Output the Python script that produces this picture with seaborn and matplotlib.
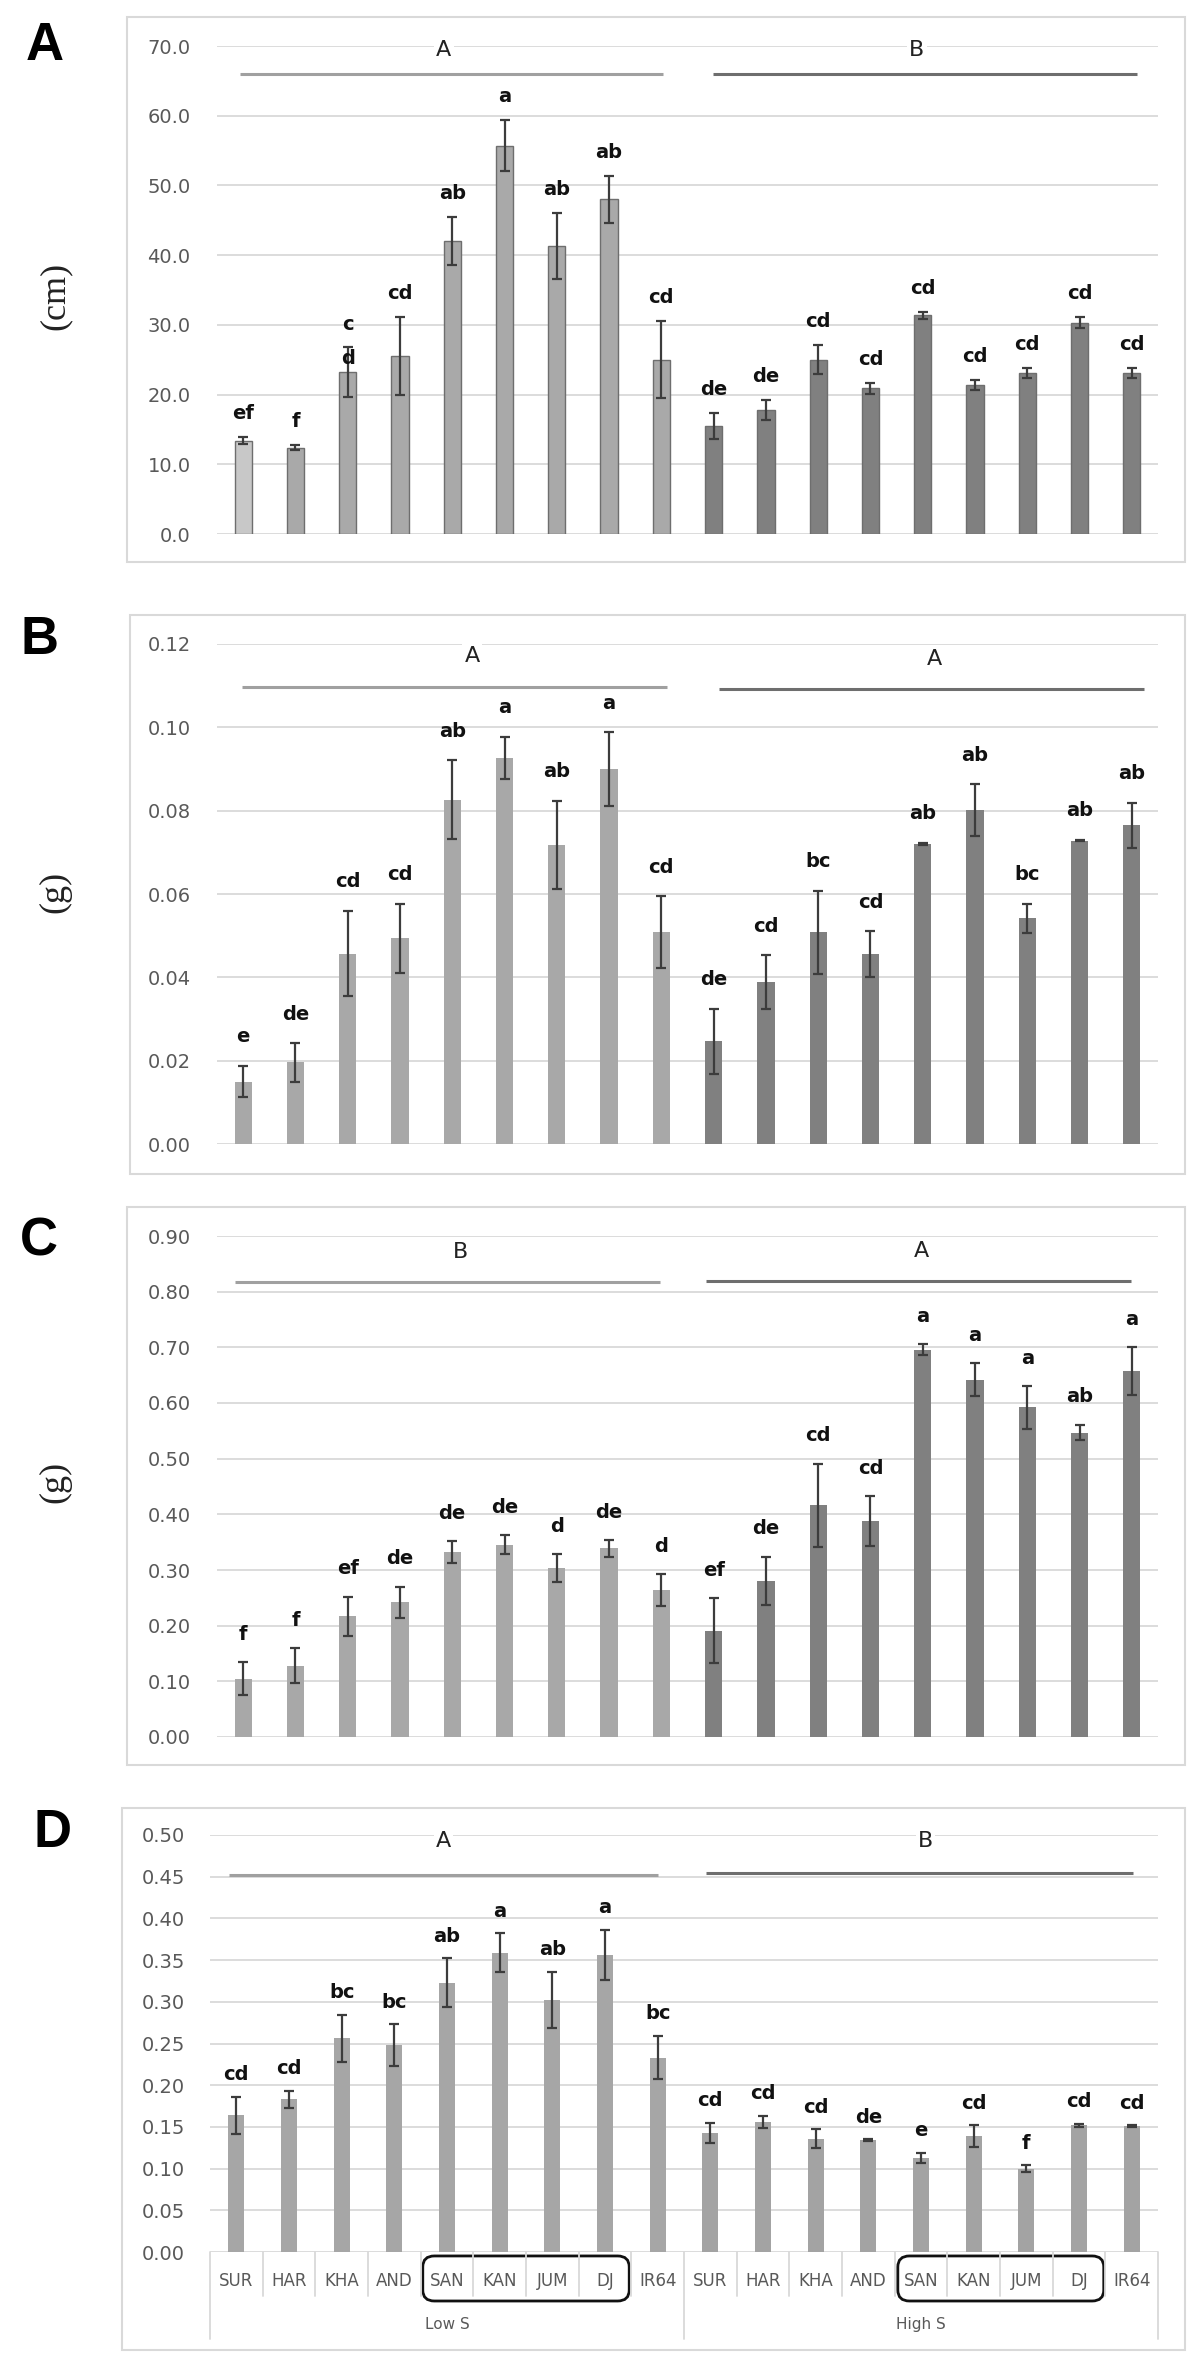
import numpy as np
import pandas as pd
import seaborn as sns
import matplotlib.pyplot as plt
import matplotlib.transforms as mtransforms
from matplotlib.patches import Rectangle, FancyBboxPatch

# cultivars and sulfur treatments
cultivars = ['SUR', 'HAR', 'KHA', 'AND', 'SAN', 'KAN', 'JUM', 'DJ', 'IR64']
treatments = ['Low S', 'High S']

# panel A - (cm)
a_mean = [13.4, 12.4, 23.2, 25.5, 42.0, 55.7, 41.3, 48.0, 25.0,
          15.5, 17.8, 25.0, 20.9, 31.4, 21.4, 23.1, 30.3, 23.1]
a_err = [0.5, 0.4, 3.6, 5.6, 3.4, 3.7, 4.7, 3.4, 5.5,
         1.9, 1.4, 2.1, 0.8, 0.5, 0.7, 0.7, 0.8, 0.7]
a_lbl = ['ef', 'f', 'c\nd', 'cd', 'ab', 'a', 'ab', 'ab', 'cd',
         'de', 'de', 'cd', 'cd', 'cd', 'cd', 'cd', 'cd', 'cd']
a_group = ['A', 'B']

# panel B - (g)
b_mean = [0.0150, 0.0196, 0.0457, 0.0494, 0.0826, 0.0926, 0.0718, 0.0900, 0.0508,
          0.0247, 0.0388, 0.0508, 0.0455, 0.0720, 0.0801, 0.0542, 0.0728, 0.0765]
b_err = [0.0037, 0.0046, 0.0102, 0.0083, 0.0095, 0.0051, 0.0106, 0.0088, 0.0086,
         0.0078, 0.0065, 0.0100, 0.0055, 0.0003, 0.0062, 0.0035, 0.0002, 0.0054]
b_lbl = ['e', 'de', 'cd', 'cd', 'ab', 'a', 'ab', 'a', 'cd',
         'de', 'cd', 'bc', 'cd', 'ab', 'ab', 'bc', 'ab', 'ab']
b_group = ['A', 'A']

# panel C - (g)
c_mean = [0.105, 0.128, 0.217, 0.242, 0.332, 0.345, 0.303, 0.339, 0.264,
          0.191, 0.281, 0.416, 0.388, 0.696, 0.642, 0.592, 0.547, 0.657]
c_err = [0.029, 0.031, 0.035, 0.028, 0.020, 0.017, 0.025, 0.015, 0.028,
         0.058, 0.043, 0.075, 0.045, 0.010, 0.030, 0.038, 0.014, 0.043]
c_lbl = ['f', 'f', 'ef', 'de', 'de', 'de', 'd', 'de', 'd',
         'ef', 'de', 'cd', 'cd', 'a', 'a', 'a', 'ab', 'a']
c_group = ['B', 'A']

# panel D - (g)
d_mean = [0.164, 0.183, 0.256, 0.248, 0.323, 0.359, 0.302, 0.356, 0.233,
          0.143, 0.156, 0.136, 0.134, 0.113, 0.139, 0.100, 0.152, 0.151]
d_err = [0.022, 0.010, 0.028, 0.025, 0.029, 0.023, 0.034, 0.030, 0.026,
         0.012, 0.007, 0.011, 0.001, 0.006, 0.013, 0.004, 0.002, 0.001]
d_lbl = ['cd', 'cd', 'bc', 'bc', 'ab', 'a', 'ab', 'a', 'bc',
         'cd', 'cd', 'cd', 'de', 'e', 'cd', 'f', 'cd', 'cd']
d_group = ['A', 'B']

W, H = 1204, 2365
sns.set_style('white')
plt.rcParams['font.family'] = ['DejaVu Sans']

fig = plt.figure(figsize=(W / 100, H / 100), dpi=100)

keys = [f'{c}|{t}' for t in treatments for c in cultivars]
trt_of = [t for t in treatments for c in cultivars]

panels = [
    dict(name='A', mean=a_mean, err=a_err, lbl=a_lbl, grp=a_group, unit='(cm)',
         top=70, step=10, fmt='{:.1f}', px=(217, 46, 1158, 534), frame=(127, 17, 1185, 562),
         letter=(45, 46), ylab=296, lab_off=13,
         cols=('#a9a9a9', '#808080'), edge=True,
         glbl=[(3.84, 69.4), (12.89, 69.4)], gline=[(-0.06, 8.03, 66.0), (8.98, 17.1, 66.0)]),
    dict(name='B', mean=b_mean, err=b_err, lbl=b_lbl, grp=b_group, unit='(g)',
         top=0.12, step=0.02, fmt='{:.2f}', px=(217, 644, 1158, 1144), frame=(130, 615, 1185, 1174),
         letter=(39, 640), ylab=892, lab_off=17,
         cols=('#a8a8a8', '#808080'), edge=False,
         glbl=[(4.38, 0.1171), (13.23, 0.1165)], gline=[(-0.02, 8.11, 0.1097), (9.1, 17.23, 0.1092)]),
    dict(name='C', mean=c_mean, err=c_err, lbl=c_lbl, grp=c_group, unit='(g)',
         top=0.90, step=0.10, fmt='{:.2f}', px=(217, 1236, 1158, 1737), frame=(127, 1207, 1185, 1765),
         letter=(39, 1242), ylab=1482, lab_off=16,
         cols=('#a8a8a8', '#808080'), edge=False,
         glbl=[(4.15, 0.871), (12.97, 0.873)], gline=[(-0.16, 7.97, 0.817), (8.85, 16.98, 0.819)]),
    dict(name='D', mean=d_mean, err=d_err, lbl=d_lbl, grp=d_group, unit=None,
         top=0.50, step=0.05, fmt='{:.2f}', px=(210, 1835, 1158, 2252), frame=(122, 1808, 1185, 2350),
         letter=(53, 1833), ylab=None, lab_off=12,
         cols=('#a6a6a6', '#a3a3a3'), edge=False,
         glbl=[(3.94, 0.493), (13.08, 0.493)], gline=[(-0.14, 8.0, 0.452), (8.92, 17.02, 0.454)]),
]

for p in panels:
    x0, y0, x1, y1 = p['px']
    ax = fig.add_axes([x0 / W, 1 - y1 / H, (x1 - x0) / W, (y1 - y0) / H])

    df = pd.DataFrame({'key': keys, 'trt': trt_of, 'val': p['mean']})
    pal = {k: (p['cols'][0] if t == 'Low S' else p['cols'][1]) for k, t in zip(keys, trt_of)}
    if p['name'] == 'A':
        pal[keys[0]] = '#c8c8c8'
    sns.barplot(data=df, x='key', y='val', hue='key', palette=pal, order=keys,
                dodge=False, width=0.33 if p['name'] != 'D' else 0.31, legend=False,
                edgecolor='#6e6e6e' if p['edge'] else 'none', linewidth=1.0 if p['edge'] else 0,
                errorbar=None, ax=ax, saturation=1)
    xs = np.arange(len(keys))
    ax.errorbar(xs, p['mean'], yerr=p['err'], fmt='none', ecolor='#3c3c3c',
                elinewidth=1.6, capsize=3.5, capthick=1.6, zorder=4)

    for x, v, e, s in zip(xs, p['mean'], p['err'], p['lbl']):
        if '\n' in s:
            ax.annotate(s, (x, v + e), xytext=(0, 4), textcoords='offset points',
                        ha='center', va='center', fontsize=14, fontweight='bold',
                        linespacing=2.0, color='#111111', zorder=5)
        else:
            ax.annotate(s, (x, v + e), xytext=(0, p['lab_off']), textcoords='offset points',
                        ha='center', va='baseline', fontsize=14, fontweight='bold',
                        color='#111111', zorder=5)

    # group letters and lines
    for (gx, gy), g in zip(p['glbl'], p['grp']):
        ax.text(gx, gy, g, ha='center', va='center', fontsize=16, color='#222222',
                bbox=dict(facecolor='white', edgecolor='none', pad=1.5), zorder=3)
    for (lx0, lx1, ly), c in zip(p['gline'], ('#a0a0a0', '#6e6e6e')):
        ax.plot([lx0, lx1], [ly, ly], color=c, lw=2.2, solid_capstyle='butt', clip_on=False, zorder=3)

    ax.set_xlim(-0.5, 17.5)
    ax.set_ylim(0, p['top'])
    ticks = np.arange(0, p['top'] + p['step'] / 2, p['step'])
    ax.set_yticks(ticks)
    ax.set_yticklabels([p['fmt'].format(t) for t in ticks])
    ax.yaxis.grid(True, color='#d9d9d9', lw=1.3)
    ax.set_axisbelow(True)
    ax.tick_params(axis='y', length=0, pad=19 if p['name'] != 'D' else 18,
                   labelsize=14, labelcolor='#595959')
    ax.set_xticks([])
    ax.set_xlabel('')
    ax.set_ylabel('')
    for sp in ax.spines.values():
        sp.set_visible(False)

    if p['name'] == 'D':
        trans = mtransforms.blended_transform_factory(ax.transData, ax.transAxes)
        for i, k in enumerate(keys):
            ax.text(i, -0.0695, k.split('|')[0], transform=trans, ha='center', va='center',
                    fontsize=12, color='#595959', clip_on=False)
        for b in np.arange(-0.5, 18, 1.0):
            low = -0.2086 if b in (-0.5, 8.5, 17.5) else -0.1055
            ax.plot([b, b], [0, low], transform=trans, color='#d9d9d9', lw=1.3, clip_on=False)
        for gx, t in zip([4.0, 13.0], treatments):
            ax.text(gx, -0.175, t, transform=trans, ha='center', va='center',
                    fontsize=11, color='#595959', clip_on=False)
        for bx0, bx1 in [(3.54, 7.46), (12.56, 16.47)]:
            box = FancyBboxPatch((bx0, -0.1175), bx1 - bx0, 0.108,
                                 boxstyle='round,pad=0,rounding_size=0.22', mutation_aspect=0.12,
                                 transform=trans, fill=False, ec='#111111', lw=2.0, clip_on=False)
            ax.add_patch(box)

    # chart frame, panel letter, unit label
    fx0, fy0, fx1, fy1 = p['frame']
    fig.add_artist(Rectangle((fx0 / W, 1 - fy1 / H), (fx1 - fx0) / W, (fy1 - fy0) / H,
                             transform=fig.transFigure, fill=False, ec='#d9d9d9', lw=1.5))
    lx, ly = p['letter']
    fig.text(lx / W, 1 - ly / H, p['name'], ha='center', va='center', fontsize=38,
             family='Liberation Sans', fontweight='bold', color='black')
    if p['unit']:
        fig.text(55 / W, 1 - p['ylab'] / H, p['unit'], rotation=90, ha='center', va='center',
                 fontsize=26, family='Liberation Serif', color='#222222')

fig.savefig('out.png', dpi=100, facecolor='white')
